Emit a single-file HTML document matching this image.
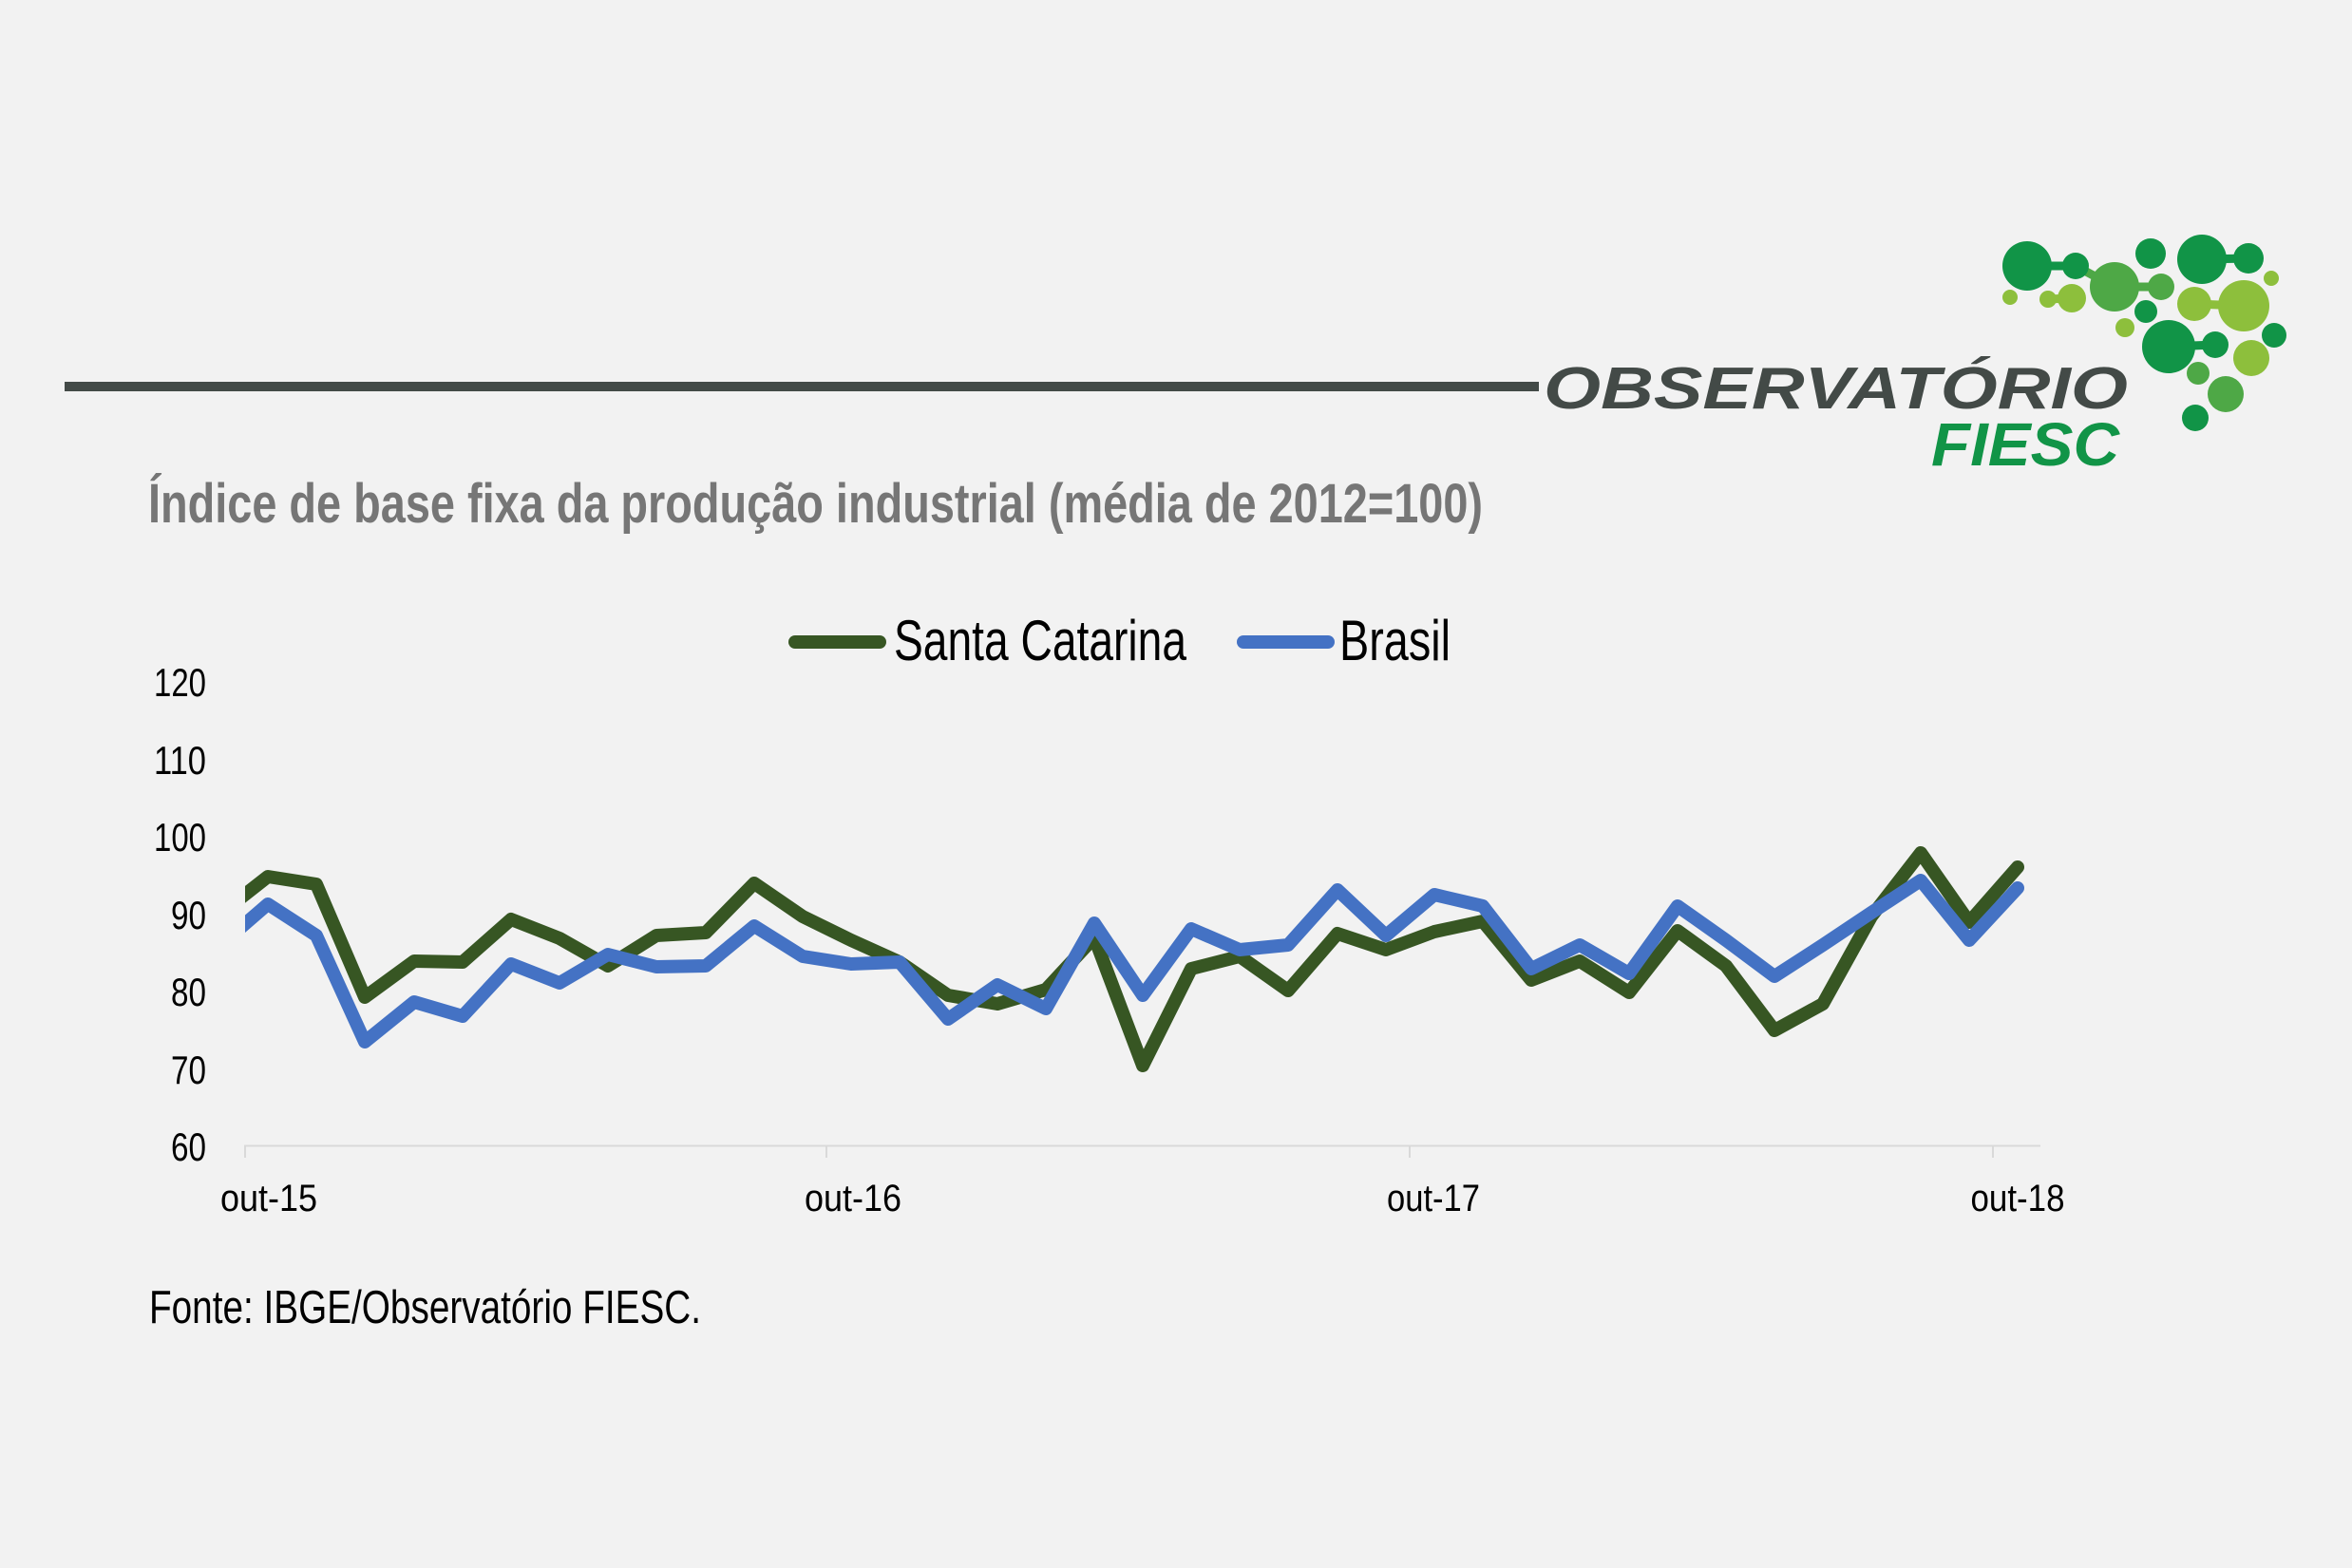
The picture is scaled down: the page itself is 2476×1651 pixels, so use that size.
<!DOCTYPE html>
<html>
<head>
<meta charset="utf-8">
<style>
  html, body { margin:0; padding:0; background:#f2f2f2; }
  svg { display:block; }
</style>
</head>
<body>
<svg width="2476" height="1651" viewBox="0 0 2476 1651" xmlns="http://www.w3.org/2000/svg">
  <rect x="0" y="0" width="2476" height="1651" fill="#f2f2f2"/>

  <!-- header line -->
  <rect x="68" y="402" width="1552" height="10" fill="#434a47"/>

  <!-- logo text -->
  <text x="1625" y="430" font-family="Liberation Sans, sans-serif" font-weight="bold" font-style="italic" font-size="62" fill="#434a47" textLength="615" lengthAdjust="spacingAndGlyphs">OBSERVATÓRIO</text>
  <text x="2033" y="490" font-family="Liberation Sans, sans-serif" font-weight="bold" font-style="italic" font-size="64" fill="#119447" textLength="198" lengthAdjust="spacingAndGlyphs">FIESC</text>

  <!-- logo circles -->
  <g stroke-width="9" stroke-linecap="round">
    <line x1="2134" y1="280" x2="2185" y2="280" stroke="#119447"/>
    <line x1="2185" y1="280" x2="2226" y2="302" stroke="#4ea846"/>
    <line x1="2226" y1="302" x2="2275" y2="302" stroke="#4ea846"/>
    <line x1="2318" y1="273" x2="2367" y2="272" stroke="#119447"/>
    <line x1="2156" y1="315" x2="2181" y2="314" stroke="#8dbf3c"/>
    <line x1="2310" y1="320" x2="2362" y2="322" stroke="#8dbf3c"/>
    <line x1="2283" y1="365" x2="2332" y2="363" stroke="#119447"/>
  </g>
  <g>
    <circle cx="2134" cy="280" r="26" fill="#119447"/>
    <circle cx="2185" cy="280" r="14" fill="#119447"/>
    <circle cx="2226" cy="302" r="26" fill="#4ea846"/>
    <circle cx="2264" cy="267" r="16" fill="#119447"/>
    <circle cx="2318" cy="273" r="26" fill="#119447"/>
    <circle cx="2367" cy="272" r="16" fill="#119447"/>
    <circle cx="2391" cy="293" r="8" fill="#8dbf3c"/>
    <circle cx="2116" cy="313" r="8" fill="#8dbf3c"/>
    <circle cx="2156" cy="315" r="9" fill="#8dbf3c"/>
    <circle cx="2181" cy="314" r="15" fill="#8dbf3c"/>
    <circle cx="2275" cy="302" r="14" fill="#4ea846"/>
    <circle cx="2259" cy="328" r="12" fill="#119447"/>
    <circle cx="2310" cy="320" r="18" fill="#8dbf3c"/>
    <circle cx="2362" cy="322" r="27" fill="#8dbf3c"/>
    <circle cx="2237" cy="345" r="10" fill="#8dbf3c"/>
    <circle cx="2283" cy="365" r="28" fill="#119447"/>
    <circle cx="2332" cy="363" r="14" fill="#119447"/>
    <circle cx="2394" cy="353" r="13" fill="#119447"/>
    <circle cx="2370" cy="377" r="19" fill="#8dbf3c"/>
    <circle cx="2314" cy="393" r="12" fill="#4ea846"/>
    <circle cx="2343" cy="415" r="19" fill="#4ea846"/>
    <circle cx="2311" cy="440" r="14" fill="#119447"/>
  </g>

  <!-- title -->
  <text x="156" y="550" font-family="Liberation Sans, sans-serif" font-weight="bold" font-size="58" fill="#767676" textLength="1405" lengthAdjust="spacingAndGlyphs">Índice de base fixa da produção industrial (média de 2012=100)</text>

  <!-- legend -->
  <line x1="837" y1="676" x2="926" y2="676" stroke="#375623" stroke-width="14" stroke-linecap="round"/>
  <text x="941" y="695" font-family="Liberation Sans, sans-serif" font-size="60" fill="#000" textLength="308" lengthAdjust="spacingAndGlyphs">Santa Catarina</text>
  <line x1="1309" y1="676" x2="1398" y2="676" stroke="#4472c4" stroke-width="14" stroke-linecap="round"/>
  <text x="1410" y="695" font-family="Liberation Sans, sans-serif" font-size="60" fill="#000" textLength="117" lengthAdjust="spacingAndGlyphs">Brasil</text>

  <!-- y axis labels -->
  <g font-family="Liberation Sans, sans-serif" font-size="42" fill="#000" text-anchor="end">
    <text x="217" y="733" textLength="55" lengthAdjust="spacingAndGlyphs">120</text>
    <text x="217" y="815" textLength="55" lengthAdjust="spacingAndGlyphs">110</text>
    <text x="217" y="896" textLength="55" lengthAdjust="spacingAndGlyphs">100</text>
    <text x="217" y="978" textLength="37" lengthAdjust="spacingAndGlyphs">90</text>
    <text x="217" y="1059" textLength="37" lengthAdjust="spacingAndGlyphs">80</text>
    <text x="217" y="1141" textLength="37" lengthAdjust="spacingAndGlyphs">70</text>
    <text x="217" y="1222" textLength="37" lengthAdjust="spacingAndGlyphs">60</text>
  </g>

  <!-- x axis -->
  <line x1="257" y1="1206.5" x2="2148" y2="1206.5" stroke="#d9d9d9" stroke-width="2"/>
  <g stroke="#d9d9d9" stroke-width="2">
    <line x1="258" y1="1206" x2="258" y2="1219"/>
    <line x1="870" y1="1206" x2="870" y2="1219"/>
    <line x1="1484" y1="1206" x2="1484" y2="1219"/>
    <line x1="2098" y1="1206" x2="2098" y2="1219"/>
  </g>
  <g font-family="Liberation Sans, sans-serif" font-size="40" fill="#000" text-anchor="middle">
    <text x="283" y="1275" textLength="102" lengthAdjust="spacingAndGlyphs">out-15</text>
    <text x="898" y="1275" textLength="102" lengthAdjust="spacingAndGlyphs">out-16</text>
    <text x="1509" y="1275" textLength="98" lengthAdjust="spacingAndGlyphs">out-17</text>
    <text x="2124" y="1275" textLength="99" lengthAdjust="spacingAndGlyphs">out-18</text>
  </g>

  <!-- series -->
  <defs>
    <clipPath id="plot"><rect x="258" y="600" width="2000" height="700"/></clipPath>
  </defs>
  <g clip-path="url(#plot)" fill="none" stroke-width="14" stroke-linejoin="round" stroke-linecap="round">
    <polyline stroke="#375623" points="231,963 282,923 333,931 384,1050 436,1012 487,1013 538,968 589,988 640,1017 691,985 743,982 794,930 845,965 896,990 947,1013 998,1048 1050,1057 1101,1042 1152,987 1203,1122 1254,1020 1305,1007 1356,1043 1408,983 1459,1000 1510,981 1561,970 1612,1032 1663,1012 1715,1045 1766,980 1817,1017 1868,1085 1919,1057 1970,965 2022,898 2073,971 2124,913"/>
    <polyline stroke="#4472c4" points="231,996 282,952 333,985 384,1097 436,1055 487,1070 538,1015 589,1035 640,1005 691,1018 743,1017 794,975 845,1007 896,1015 947,1013 998,1073 1050,1037 1101,1062 1152,972 1203,1048 1254,978 1305,1000 1356,995 1408,937 1459,985 1510,942 1561,954 1612,1020 1663,995 1715,1025 1766,954 1817,990 1868,1028 1919,995 1970,961 2022,927 2073,990 2124,935"/>
  </g>

  <!-- source -->
  <text x="157" y="1393" font-family="Liberation Sans, sans-serif" font-size="49" fill="#000" textLength="581" lengthAdjust="spacingAndGlyphs">Fonte: IBGE/Observatório FIESC.</text>
</svg>
</body>
</html>
